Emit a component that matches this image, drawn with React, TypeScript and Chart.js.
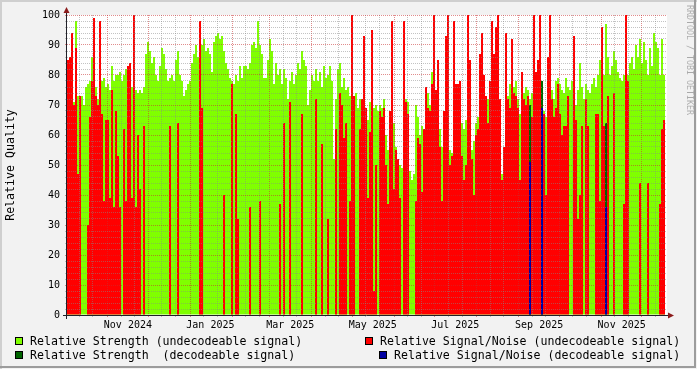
import React, { useEffect, useRef } from 'react';
import { Chart, registerables } from 'chart.js';

Chart.register(...registerables);

// ---------- data ----------
const RANGE_START = Date.UTC(2024, 9, 2); // left edge of the plot
const DAY_MS = 86400000;
const RANGE_DAYS = 443.5; // width of the time window, in days

// one value per time bin (bins evenly divide the window)
const strengthUndecodeable = [
  67, 72, 72, 71, 98, 73, 72, 73, 70, 76,
  77, 78, 86, 80, 76, 72, 74, 78, 79, 76,
  77, 75, 83, 78, 80, 80, 81, 78, 80, 82,
  82, 77, 76, 77, 75, 74, 75, 74, 76, 87,
  91, 88, 84, 86, 80, 78, 83, 89, 87, 82,
  78, 79, 80, 78, 85, 88, 80, 78, 73, 75,
  77, 78, 84, 87, 90, 86, 85, 90, 92, 88,
  89, 87, 81, 91, 93, 94, 92, 93, 88, 84,
  82, 79, 78, 77, 80, 78, 83, 79, 83, 83,
  82, 84, 90, 91, 89, 98, 90, 87, 79, 79,
  85, 92, 88, 77, 84, 80, 82, 77, 82, 79,
  72, 78, 81, 77, 80, 84, 82, 88, 85, 83,
  70, 75, 80, 78, 82, 78, 81, 76, 83, 79,
  80, 83, 78, 52, 72, 82, 84, 76, 79, 75,
  76, 73, 75, 71, 74, 69, 72, 71, 65, 67,
  65, 71, 70, 69, 70, 68, 70, 69, 72, 60,
  55, 52, 66, 64, 56, 52, 50, 49, 96, 72,
  71, 48, 45, 47, 70, 66, 60, 63, 58, 72,
  74, 70, 81, 78, 74, 69, 62, 56, 60, 54,
  58, 55, 54, 50, 48, 52, 66, 64, 62, 65,
  66, 62, 55, 58, 64, 66, 70, 69, 68, 66,
  72, 73, 70, 72, 70, 68, 52, 47, 50, 70,
  73, 77, 79, 76, 78, 72, 67, 70, 74, 76,
  75, 72, 74, 77, 80, 78, 76, 75, 68, 66,
  73, 83, 75, 72, 78, 79, 77, 75, 74, 79,
  76, 75, 78, 74, 70, 75, 84, 76, 72, 77,
  75, 74, 77, 79, 76, 80, 85, 82, 80, 97,
  86, 80, 83, 88, 85, 81, 79, 78, 80, 79,
  80, 84, 86, 82, 90, 86, 92, 84, 91, 85,
  80, 89, 83, 94, 91, 89, 80, 92, 80, 0,
];

// 0 = no value in that bin
const snrUndecodeable = [
  85, 86, 94, 70, 89, 47, 73, 0, 0, 0,
  30, 66, 78, 99, 73, 70, 98, 67, 38, 65,
  65, 39, 75, 36, 68, 53, 36, 0, 62, 38,
  83, 84, 39, 100, 36, 60, 42, 0, 63, 0,
  0, 0, 0, 0, 0, 0, 0, 0, 0, 0,
  0, 63, 0, 0, 0, 64, 0, 0, 0, 0,
  0, 0, 0, 0, 0, 0, 98, 69, 0, 0,
  0, 0, 0, 0, 0, 0, 0, 0, 40, 0,
  0, 0, 77, 0, 67, 32, 0, 0, 0, 0,
  0, 36, 0, 0, 0, 0, 38, 0, 0, 0,
  0, 0, 0, 0, 0, 0, 37, 0, 64, 0,
  0, 71, 0, 0, 0, 0, 0, 67, 0, 0,
  0, 0, 0, 0, 72, 0, 0, 57, 0, 0,
  32, 0, 0, 0, 62, 0, 74, 70, 59, 64,
  0, 38, 100, 73, 0, 0, 62, 72, 93, 69,
  39, 61, 95, 8, 50, 0, 68, 66, 69, 50,
  37, 68, 98, 42, 55, 52, 39, 0, 98, 71,
  67, 0, 0, 0, 38, 59, 57, 41, 62, 76,
  69, 68, 77, 100, 75, 85, 56, 38, 68, 93,
  100, 50, 53, 98, 77, 77, 78, 53, 45, 50,
  100, 85, 52, 40, 60, 62, 87, 94, 80, 73,
  64, 78, 98, 87, 96, 100, 72, 45, 56, 94,
  72, 69, 92, 74, 73, 69, 45, 81, 72, 70,
  73, 60, 66, 100, 81, 85, 100, 40, 67, 40,
  86, 100, 72, 66, 69, 77, 67, 60, 63, 63,
  73, 0, 0, 93, 65, 32, 40, 63, 0, 72,
  63, 0, 0, 0, 67, 67, 38, 96, 63, 0,
  73, 0, 0, 74, 0, 0, 0, 0, 37, 100,
  78, 0, 0, 0, 0, 0, 44, 0, 0, 0,
  44, 0, 0, 0, 0, 0, 37, 62, 65, 0,
];

const decodeableBins = [231, 237, 269];
const strengthDecodeable = [70, 78, 64];
const snrDecodeable = [51, 69, 36];

const xTickLabels = ['Nov 2024', 'Jan 2025', 'Mar 2025', 'May 2025', 'Jul 2025', 'Sep 2025', 'Nov 2025'];

const seriesNames = [
  'Relative Strength (undecodeable signal)',
  'Relative Signal/Noise (undecodeable signal)',
  'Relative Strength  (decodeable signal)',
  'Relative Signal/Noise (decodeable signal)',
];
const seriesColors = ['#80ff00', '#ff0000', '#006400', '#0000a0'];

// ---------- styling ----------
const FONT = '"DejaVu Sans Mono", "Liberation Mono", monospace';
const BG = '#f2f2f2';
const GRID_MINOR = 'rgba(135,135,135,0.5)';
const GRID_MAJOR = 'rgba(200,45,45,0.55)';
const CLEAR = 'rgba(0,0,0,0)';
const AXIS = '#202028';
const ARROW = '#8c1c1c';

const MONTH_ABBR = ['Jan', 'Feb', 'Mar', 'Apr', 'May', 'Jun', 'Jul', 'Aug', 'Sep', 'Oct', 'Nov', 'Dec'];
const dayOffset = (y: number, m: number, d: number) => (Date.UTC(y, m, d) - RANGE_START) / DAY_MS;

type XTick = { value: number; kind: 'major' | 'minor' | 'label'; text: string };

function buildXTicks(): XTick[] {
  const out: XTick[] = [];
  const s = new Date(RANGE_START);
  let y = s.getUTCFullYear();
  let m = s.getUTCMonth();
  for (let k = 0; k < 20; k++) {
    const marks: [number, 'major' | 'minor'][] = [[1, 'major'], [11, 'minor'], [21, 'minor']];
    for (const [d, kind] of marks) {
      const v = dayOffset(y, m, d);
      if (v > 0 && v < RANGE_DAYS) out.push({ value: v, kind, text: '' });
    }
    m++;
    if (m > 11) { m = 0; y++; }
  }
  for (const lbl of xTickLabels) {
    const [mon, yr] = lbl.split(' ');
    out.push({ value: dayOffset(Number(yr), MONTH_ABBR.indexOf(mon), 16), kind: 'label', text: lbl });
  }
  out.sort((a, b) => a.value - b.value);
  return out;
}

const xTicks = buildXTicks();
const binDays = RANGE_DAYS / strengthUndecodeable.length;
const binCenter = (i: number) => (i + 0.5) * binDays;

const xGridColor = (ctx: any) => {
  const t = ctx && typeof ctx.index === 'number' ? xTicks[ctx.index] : undefined;
  if (!t || t.kind === 'label') return CLEAR;
  return t.kind === 'major' ? GRID_MAJOR : GRID_MINOR;
};
const yGridColor = (ctx: any) => {
  const v = ctx && ctx.tick ? ctx.tick.value : undefined;
  if (v === undefined) return CLEAR;
  return Math.round(v) % 10 === 0 ? GRID_MAJOR : GRID_MINOR;
};

const rrdPlugin = {
  id: 'rrdLook',
  beforeDraw(chart: any) {
    const { ctx, chartArea: a, width, height } = chart;
    ctx.save();
    ctx.fillStyle = BG;
    ctx.fillRect(0, 0, width, height);
    ctx.fillStyle = '#cfcfcf';
    ctx.fillRect(0, 0, width, 2);
    ctx.fillRect(0, 0, 2, height);
    ctx.fillStyle = '#9c9c9c';
    ctx.fillRect(0, height - 3, width - 1, 2);
    ctx.fillRect(width - 3, 0, 2, height - 1);
    ctx.fillStyle = '#ffffff';
    ctx.fillRect(a.left, a.top, a.right - a.left, a.bottom - a.top);
    ctx.restore();
  },
  afterDraw(chart: any) {
    const { ctx, chartArea: a } = chart;
    ctx.save();
    // axes
    ctx.strokeStyle = AXIS;
    ctx.lineWidth = 1;
    ctx.beginPath();
    ctx.moveTo(a.left - 0.5, a.bottom + 4);
    ctx.lineTo(a.left - 0.5, a.top - 3);
    ctx.moveTo(a.left - 4, a.bottom + 0.5);
    ctx.lineTo(a.right + 3, a.bottom + 0.5);
    ctx.stroke();
    // arrows
    ctx.fillStyle = ARROW;
    ctx.beginPath();
    ctx.moveTo(a.left - 3.5, a.top - 2);
    ctx.lineTo(a.left + 2.5, a.top - 2);
    ctx.lineTo(a.left - 0.5, a.top - 8);
    ctx.closePath();
    ctx.fill();
    ctx.beginPath();
    ctx.moveTo(a.right + 1, a.bottom - 2.5);
    ctx.lineTo(a.right + 1, a.bottom + 3.5);
    ctx.lineTo(a.right + 7, a.bottom + 0.5);
    ctx.closePath();
    ctx.fill();

    // y title
    ctx.fillStyle = '#000';
    ctx.font = `11.6px ${FONT}`;
    ctx.textAlign = 'center';
    ctx.textBaseline = 'middle';
    ctx.save();
    ctx.translate(11, (a.top + a.bottom) / 2);
    ctx.rotate(-Math.PI / 2);
    ctx.fillText('Relative Quality', 0, 0);
    ctx.restore();

    // watermark
    ctx.save();
    ctx.fillStyle = 'rgba(0,0,0,0.3)';
    ctx.font = `8.3px ${FONT}`;
    ctx.textAlign = 'left';
    ctx.textBaseline = 'middle';
    ctx.translate(689, 5);
    ctx.rotate(Math.PI / 2);
    ctx.fillText('RRDTOOL / TOBI OETIKER', 0, 0);
    ctx.restore();

    // legend
    const items = [
      { sq: 15, tx: 30, row: 0, idx: 0 },
      { sq: 365, tx: 380, row: 0, idx: 1 },
      { sq: 15, tx: 30, row: 1, idx: 2 },
      { sq: 379, tx: 394, row: 1, idx: 3 },
    ];
    ctx.font = `11.6px ${FONT}`;
    ctx.textAlign = 'left';
    ctx.textBaseline = 'middle';
    for (const it of items) {
      const top = 337 + it.row * 14;
      ctx.fillStyle = seriesColors[it.idx];
      ctx.fillRect(it.sq, top, 8, 8);
      ctx.strokeStyle = '#000';
      ctx.lineWidth = 1;
      ctx.strokeRect(it.sq + 0.5, top + 0.5, 7, 7);
      ctx.fillStyle = '#000';
      ctx.fillText(seriesNames[it.idx], it.tx, top + 4.5);
    }
    ctx.restore();
  },
};

const barCommon = {
  borderWidth: 0,
  barPercentage: 1,
  categoryPercentage: 1,
  grouped: false,
  inflateAmount: 0,
};

export default function App() {
  const ref = useRef<HTMLCanvasElement>(null);
  useEffect(() => {
    const canvas = ref.current;
    if (!canvas) return;
    const toPoints = (vals: number[]) =>
      vals.map((v, i) => ({ x: binCenter(i), y: v > 0 ? v : null }));
    const chart = new Chart(canvas, {
      type: 'bar',
      data: {
        datasets: [
          {
            label: seriesNames[3],
            data: decodeableBins.map((b, k) => ({ x: binCenter(b), y: snrDecodeable[k] })),
            backgroundColor: seriesColors[3],
            order: 0,
            ...barCommon,
          },
          {
            label: seriesNames[2],
            data: decodeableBins.map((b, k) => ({ x: binCenter(b), y: strengthDecodeable[k] })),
            backgroundColor: seriesColors[2],
            order: 1,
            ...barCommon,
          },
          {
            label: seriesNames[1],
            data: toPoints(snrUndecodeable),
            backgroundColor: seriesColors[1],
            order: 2,
            ...barCommon,
          },
          {
            label: seriesNames[0],
            data: toPoints(strengthUndecodeable),
            backgroundColor: seriesColors[0],
            order: 3,
            ...barCommon,
          },
        ],
      } as any,
      options: {
        responsive: false,
        maintainAspectRatio: false,
        animation: false,
        devicePixelRatio: 1,
        events: [],
        layout: { padding: { top: 15, right: 30, bottom: 0, left: 0 } },
        plugins: { legend: { display: false }, tooltip: { enabled: false }, title: { display: false } },
        scales: {
          x: {
            type: 'linear',
            min: 0,
            max: RANGE_DAYS,
            offset: false,
            grid: { offset: false, z: 1, color: xGridColor, tickColor: xGridColor, lineWidth: 1, tickLength: 2 },
            border: { display: false, dash: [1, 1] },
            ticks: {
              autoSkip: false,
              maxRotation: 0,
              minRotation: 0,
              padding: 2,
              color: '#000',
              font: { family: FONT, size: 10 },
              callback: (_v: any, i: number) => (xTicks[i] ? xTicks[i].text : ''),
            },
            afterBuildTicks: (s: any) => {
              s.ticks = xTicks.map((t) => ({ value: t.value }));
            },
            afterFit: (s: any) => {
              s.height = 54;
            },
          },
          y: {
            type: 'linear',
            min: 0,
            max: 100,
            grid: { z: 1, color: yGridColor, tickColor: yGridColor, lineWidth: 1, tickLength: 2 },
            border: { display: false, dash: [1, 1] },
            ticks: {
              stepSize: 2,
              autoSkip: false,
              padding: 5,
              color: '#000',
              font: { family: FONT, size: 10 },
              callback: (v: any) => (Math.round(Number(v)) % 10 === 0 ? String(v) : ''),
            },
            afterFit: (s: any) => {
              s.width = 67;
            },
          },
        },
      } as any,
      plugins: [rrdPlugin],
    });
    return () => chart.destroy();
  }, []);
  return (
    <div style={{ position: 'fixed', left: 0, top: 0, width: 697, height: 369, background: BG }}>
      <canvas ref={ref} width={697} height={369} style={{ display: 'block', width: 697, height: 369 }} />
    </div>
  );
}
